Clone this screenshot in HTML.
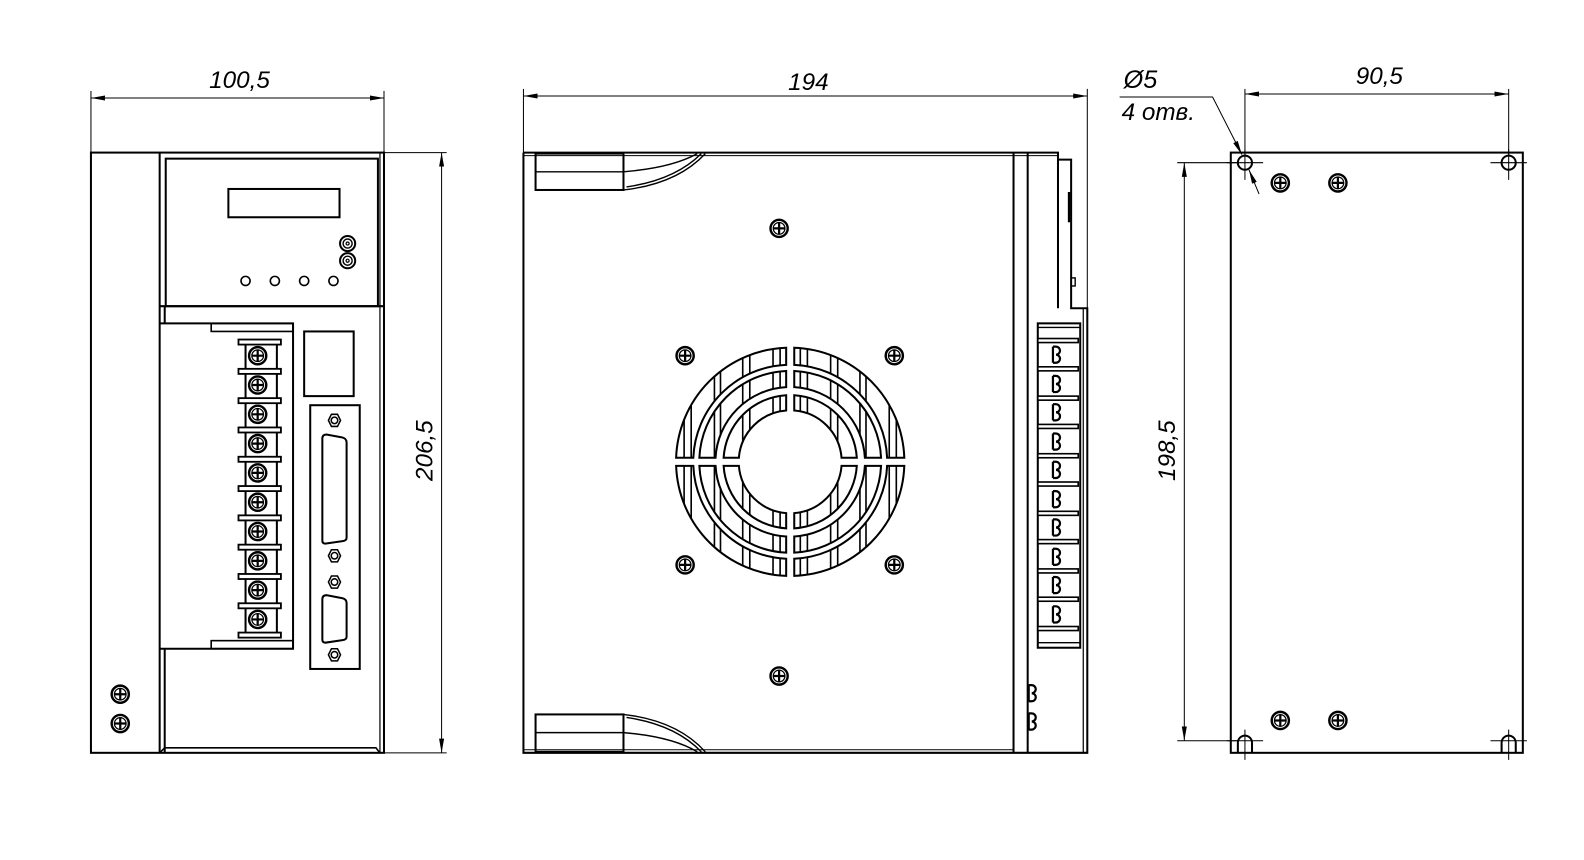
<!DOCTYPE html>
<html><head><meta charset="utf-8"><style>
html,body{margin:0;padding:0;background:#fff;}
svg{display:block;}
text{font-family:"Liberation Sans",sans-serif;font-style:italic;font-size:24px;fill:#000;}
</style></head><body>
<svg width="1584" height="860" viewBox="0 0 1584 860" xmlns="http://www.w3.org/2000/svg">
<defs>
<g id="scr"><circle r="8.5" fill="#fff" stroke="#000" stroke-width="2.4"/><circle r="5.8" fill="none" stroke="#000" stroke-width="1.2"/><path d="M-6 0H6M0 -6V6" stroke="#000" stroke-width="2.2"/></g>
<g id="hex"><polygon points="-6,0 -3,-6 3,-6 6,0 3,6 -3,6" fill="#fff" stroke="#000" stroke-width="1.5"/><circle r="3.2" fill="none" stroke="#000" stroke-width="1.5"/></g>
<g id="bb"><path d="M0 -8 V8 M0 -8 H3 A4 4 0 0 1 3 0 A4 4 0 0 1 3 8 H0" fill="none" stroke="#000" stroke-width="2.2"/></g>
<path id="q" d="M4,-112.9 A113 113 0 0 1 112.9,-4 L95.9,-4 A96 96 0 0 0 4,-95.9 Z M4,-89.9 A90 90 0 0 1 89.9,-4 L73.9,-4 A74 74 0 0 0 4,-73.9 Z M4,-65.9 A66 66 0 0 1 65.9,-4 L50.8,-4 A51 51 0 0 0 4,-50.8 Z"/>
<clipPath id="fc"><use href="#q"/><use href="#q" transform="rotate(90)"/><use href="#q" transform="rotate(180)"/><use href="#q" transform="rotate(270)"/></clipPath>
<marker id="ar" viewBox="0 0 14 6" refX="14" refY="3" markerWidth="14" markerHeight="6" orient="auto-start-reverse" markerUnits="userSpaceOnUse"><path d="M0 0.5L14 3L0 5.5z" fill="#000"/></marker>
</defs>
<g transform="scale(1.0105)">
<g fill="none" stroke="#000" stroke-width="2">
<rect x="90" y="151" width="290" height="594"/>
<line x1="158" y1="151" x2="158" y2="745"/>
<line x1="376" y1="151" x2="376" y2="745" stroke-width="1.2"/>
<rect x="164" y="157" width="210" height="146"/>
<line x1="158" y1="303" x2="380" y2="303"/>
<line x1="163" y1="303" x2="163" y2="320"/>
<rect x="226" y="187" width="110" height="28"/>
<circle cx="344" cy="241" r="7.5"/><circle cx="344" cy="241" r="4.5" stroke-width="1.4"/><circle cx="344" cy="241" r="1.5" stroke-width="1.2"/>
<circle cx="344" cy="258" r="7.5"/><circle cx="344" cy="258" r="4.5" stroke-width="1.4"/><circle cx="344" cy="258" r="1.5" stroke-width="1.2"/>
<circle cx="243" cy="278" r="4.5" stroke-width="1.6"/><circle cx="272" cy="278" r="4.5" stroke-width="1.6"/><circle cx="301" cy="278" r="4.5" stroke-width="1.6"/><circle cx="330" cy="278" r="4.5" stroke-width="1.6"/>
<polyline points="158,320 290,320 290,642 158,642"/>
<rect x="209" y="320" width="81" height="8" stroke-width="1.6"/>
<rect x="209" y="634" width="81" height="8" stroke-width="1.6"/>
<line x1="163" y1="642" x2="163" y2="745"/>
<polyline points="163,740 372,740 376,745" stroke-width="1.6"/>
<line x1="163" y1="740" x2="158" y2="745" stroke-width="1.6"/>
<line x1="243" y1="336" x2="243" y2="631"/><line x1="274" y1="336" x2="274" y2="631"/>
<rect x="301" y="328" width="49" height="64"/>
<rect x="307" y="401" width="49" height="261"/>
<path d="M319 434 Q319 430 323 430 L339 433 Q343 434 343 438 L343 532 Q343 535 339 535.5 L322 538 Q319 538 319 535 Z"/>
<path d="M319 593 Q319 589 323 589 L339 592 Q343 593 343 597 L343 630 Q343 633 339 633.5 L322 636 Q319 636 319 633 Z"/>
</g>
<g fill="#fff" stroke="#000" stroke-width="1.8">
<rect x="236" y="336" width="42" height="5"/><rect x="236" y="365" width="42" height="5"/><rect x="236" y="394" width="42" height="5"/><rect x="236" y="423" width="42" height="5"/><rect x="236" y="452" width="42" height="5"/><rect x="236" y="481" width="42" height="5"/><rect x="236" y="510" width="42" height="5"/><rect x="236" y="539" width="42" height="5"/><rect x="236" y="568" width="42" height="5"/><rect x="236" y="597" width="42" height="5"/><rect x="236" y="626" width="42" height="5"/>
</g>
<use href="#scr" x="255" y="352"/><use href="#scr" x="255" y="381"/><use href="#scr" x="255" y="410"/><use href="#scr" x="255" y="439"/><use href="#scr" x="255" y="468"/><use href="#scr" x="255" y="497"/><use href="#scr" x="255" y="526"/><use href="#scr" x="255" y="555"/><use href="#scr" x="255" y="584"/><use href="#scr" x="255" y="613"/>
<use href="#hex" x="331" y="416"/><use href="#hex" x="331" y="550"/><use href="#hex" x="331" y="576"/><use href="#hex" x="331" y="648"/>
<use href="#scr" x="119" y="687"/><use href="#scr" x="119" y="716"/>
<g stroke="#000" stroke-width="1" fill="none">
<line x1="90" y1="90" x2="90" y2="151"/><line x1="380" y1="90" x2="380" y2="151"/>
<line x1="90" y1="97" x2="380" y2="97" marker-start="url(#ar)" marker-end="url(#ar)"/>
<line x1="380" y1="151" x2="442" y2="151"/><line x1="380" y1="745" x2="442" y2="745"/>
<line x1="437" y1="151" x2="437" y2="745" marker-start="url(#ar)" marker-end="url(#ar)"/>
</g>
<text x="237" y="87" text-anchor="middle">100,5</text>
<text transform="translate(428,446) rotate(-90)" text-anchor="middle">206,5</text>

<g fill="none" stroke="#000" stroke-width="2">
<polyline points="518,151 1047,151 1047,158 1060,158 1060,305 1076,305 1076,745 518,745 518,151"/>
<line x1="518" y1="154" x2="1047" y2="154" stroke-width="1"/>
<line x1="518" y1="742" x2="1003" y2="742" stroke-width="1"/>
<line x1="1003" y1="151" x2="1003" y2="745"/><line x1="1017" y1="151" x2="1017" y2="745"/>
<line x1="1047" y1="158" x2="1047" y2="305"/>
<rect x="1060" y="275" width="4" height="8" stroke-width="1.4"/>
<line x1="1058" y1="190" x2="1058" y2="220" stroke-width="2.5"/>
<line x1="1072" y1="305" x2="1072" y2="745" stroke-width="1.2"/>
<rect x="1027" y="320" width="42" height="321"/>
<line x1="1027" y1="324" x2="1069" y2="324" stroke-width="1.4"/>
<line x1="1027" y1="636" x2="1069" y2="636" stroke-width="1.4"/>
<rect x="530" y="152" width="87" height="36"/><line x1="530" y1="170" x2="617" y2="170" stroke-width="1.4"/>
<path d="M617 170 Q665 166 690 152 M617 188 Q670 182 698 152 M620 185 Q668 178 694 152" stroke-width="1.4"/>
<rect x="530" y="707" width="87" height="37"/><line x1="530" y1="725" x2="617" y2="725" stroke-width="1.4"/>
<path d="M617 725 Q665 729 690 744 M617 707 Q670 713 698 744 M620 710 Q668 717 694 744" stroke-width="1.4"/>
</g>
<g fill="#fff" stroke="#000" stroke-width="1.6">
<rect x="1027" y="335" width="40" height="4"/><rect x="1027" y="363" width="40" height="4"/><rect x="1027" y="392" width="40" height="4"/><rect x="1027" y="420" width="40" height="4"/><rect x="1027" y="449" width="40" height="4"/><rect x="1027" y="477" width="40" height="4"/><rect x="1027" y="506" width="40" height="4"/><rect x="1027" y="534" width="40" height="4"/><rect x="1027" y="563" width="40" height="4"/><rect x="1027" y="591" width="40" height="4"/><rect x="1027" y="620" width="40" height="4"/>
</g>
<use href="#bb" x="1042" y="351"/><use href="#bb" x="1042" y="380"/><use href="#bb" x="1042" y="408"/><use href="#bb" x="1042" y="437"/><use href="#bb" x="1042" y="465"/><use href="#bb" x="1042" y="494"/><use href="#bb" x="1042" y="522"/><use href="#bb" x="1042" y="551"/><use href="#bb" x="1042" y="579"/><use href="#bb" x="1042" y="608"/>
<use href="#bb" x="1018" y="686"/><use href="#bb" x="1018" y="714"/>
<g transform="translate(782,457)">
<g fill="none" stroke="#000" stroke-width="2">
<use href="#q"/><use href="#q" transform="rotate(90)"/><use href="#q" transform="rotate(180)"/><use href="#q" transform="rotate(270)"/>
</g>
<g clip-path="url(#fc)" stroke="#000" stroke-width="1.6">
<path d="M-105 -120V120M-98 -120V120M-75 -120V120M-69 -120V120M-47 -120V120M-40 -120V120M-17 -120V120M-10 -120V120M105 -120V120M98 -120V120M75 -120V120M69 -120V120M47 -120V120M40 -120V120M17 -120V120M10 -120V120"/>
</g>
</g>
<use href="#scr" x="771" y="226"/><use href="#scr" x="678" y="352"/><use href="#scr" x="885" y="352"/><use href="#scr" x="678" y="559"/><use href="#scr" x="885" y="559"/><use href="#scr" x="771" y="669"/>
<g stroke="#000" stroke-width="1" fill="none">
<line x1="518" y1="88" x2="518" y2="151"/><line x1="1076" y1="88" x2="1076" y2="305"/>
<line x1="518" y1="95" x2="1076" y2="95" marker-start="url(#ar)" marker-end="url(#ar)"/>
</g>
<text x="800" y="89" text-anchor="middle">194</text>

<g fill="none" stroke="#000" stroke-width="2">
<rect x="1218" y="151" width="289" height="594"/>
<circle cx="1232" cy="161" r="7"/><circle cx="1493" cy="161" r="7"/>
<path d="M1225 745 V735 A7 7 0 0 1 1239 735 V745"/><path d="M1486 745 V735 A7 7 0 0 1 1500 735 V745"/>
</g>
<g stroke="#000" stroke-width="1" fill="none">
<path d="M1214 161H1250M1232 148V178M1475 161H1511M1493 148V178M1214 733H1250M1232 722V752M1475 733H1511M1493 722V752"/>
<line x1="1232" y1="88" x2="1232" y2="154"/><line x1="1493" y1="88" x2="1493" y2="154"/>
<line x1="1232" y1="93" x2="1493" y2="93" marker-start="url(#ar)" marker-end="url(#ar)"/>
<line x1="1165" y1="161" x2="1225" y2="161"/><line x1="1165" y1="733" x2="1225" y2="733"/>
<line x1="1172" y1="161" x2="1172" y2="733" marker-start="url(#ar)" marker-end="url(#ar)"/>
<polyline points="1108,96 1200,96 1229,153" marker-end="url(#ar)"/>
<line x1="1246" y1="192" x2="1236" y2="168" marker-end="url(#ar)"/>
</g>
<use href="#scr" x="1267" y="181"/><use href="#scr" x="1324" y="181"/><use href="#scr" x="1267" y="713"/><use href="#scr" x="1324" y="713"/>
<text x="1365" y="83" text-anchor="middle">90,5</text>
<text transform="translate(1163,446) rotate(-90)" text-anchor="middle">198,5</text>
<text x="1112" y="87" style="font-size:25px">Ø5</text>
<text x="1110" y="119">4 отв.</text>
</g>
</svg>
</body></html>
